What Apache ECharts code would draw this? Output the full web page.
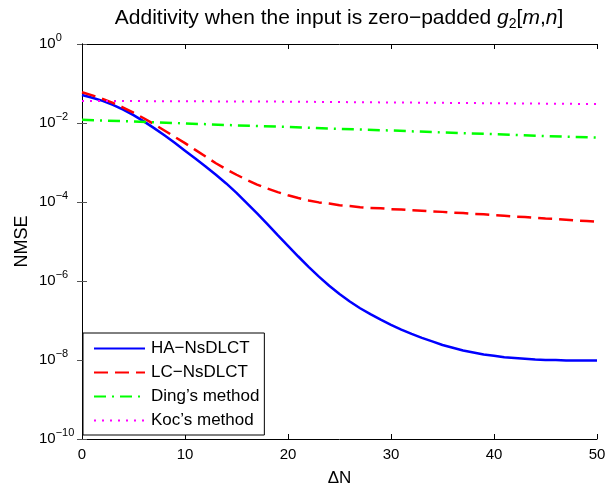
<!DOCTYPE html>
<html>
<head>
<meta charset="utf-8">
<script src="https://cdn.jsdelivr.net/npm/echarts@6/dist/echarts.min.js"></script>
<style>
  html, body { margin: 0; padding: 0; background: #fff; }
  #chart { width: 605px; height: 489px; }
</style>
</head>
<body>
<div id="chart"></div>
<script>
// values are log10(NMSE)
var dN = [];
for (var i = 0; i <= 50; i++) dN.push(i);

var haNsdlct = [-1.29, -1.36, -1.44, -1.54, -1.66, -1.80, -1.96, -2.13, -2.31, -2.50,
	-2.70, -2.90, -3.10, -3.31, -3.53, -3.77, -4.03, -4.29, -4.56, -4.84,
	-5.11, -5.38, -5.64, -5.89, -6.12, -6.33, -6.52, -6.69, -6.84, -6.98,
	-7.11, -7.23, -7.34, -7.44, -7.53, -7.62, -7.69, -7.76, -7.81, -7.86,
	-7.89, -7.93, -7.95, -7.97, -7.99, -8.00, -8.00, -8.01, -8.01, -8.01, -8.01];

var lcNsdlct = [-1.22, -1.30, -1.39, -1.49, -1.61, -1.74, -1.88, -2.03, -2.19, -2.35,
	-2.51, -2.68, -2.85, -3.02, -3.17, -3.31, -3.44, -3.56, -3.66, -3.75,
	-3.83, -3.90, -3.96, -4.01, -4.04, -4.08, -4.10, -4.13, -4.15, -4.16,
	-4.18, -4.19, -4.21, -4.22, -4.24, -4.25, -4.27, -4.28, -4.30, -4.31,
	-4.33, -4.35, -4.37, -4.38, -4.40, -4.42, -4.43, -4.45, -4.47, -4.48, -4.50];

var dingX = [0, 5, 10, 15, 20, 25, 30, 35, 40, 45, 50];
var ding = [-1.92, -1.96, -2.01, -2.06, -2.10, -2.15, -2.19, -2.24, -2.28, -2.33, -2.37];

var kocX = [0, 10, 20, 30, 40, 50];
var koc = [-1.44, -1.45, -1.46, -1.48, -1.50, -1.52];

var xTicks = [0, 10, 20, 30, 40, 50];
var yExps = [0, -2, -4, -6, -8, -10];

var font = 'Liberation Sans, Arial, Helvetica, sans-serif';

function pairs(xs, logs) {
	var out = [];
	for (var k = 0; k < xs.length; k++) out.push([xs[k], Math.pow(10, logs[k])]);
	return out;
}

function yLabel(v) {
	var e = Math.round(Math.log10(v));
	if (yExps.indexOf(e) < 0) return '';
	return '{b|10}{s|' + String(e).replace('-', '\u2212') + '}';
}

var chart = echarts.init(document.getElementById('chart'));

var baseX = {
	type: 'value', min: 0, max: 50, interval: 10,
	axisLine: { lineStyle: { color: '#000', width: 1 } },
	axisTick: { inside: true, length: 5, lineStyle: { color: '#000' } },
	splitLine: { show: false }
};
var baseY = {
	type: 'log', logBase: 10, min: 1e-10, max: 1, interval: 2,
	axisLine: { show: true, lineStyle: { color: '#000', width: 1 } },
	axisTick: { inside: true, length: 5, lineStyle: { color: '#555' } },
	minorTick: { show: false },
	splitLine: { show: false }
};

chart.setOption({
	animation: false,
	backgroundColor: '#fff',
	title: {
		text: '{n|Additivity when the input is zero\u2212padded }{i|g}{sub|2}{n|[}{i|m}{n|,}{i|n}{n|]}',
		left: 334, top: 1, textAlign: 'center',
		textStyle: {
			fontWeight: 'normal',
			rich: {
				n: { fontFamily: font, fontSize: 21, fontWeight: 'normal', color: '#000' },
				i: { fontFamily: font, fontSize: 21, fontWeight: 'normal', fontStyle: 'italic', color: '#000' },
				sub: { fontFamily: font, fontSize: 14, fontWeight: 'normal', color: '#000', padding: [11, 0, 0, 0] }
			}
		}
	},
	grid: { left: 82, right: 8, top: 44, bottom: 50, outerBoundsMode: 'none' },
	legend: {
		orient: 'vertical',
		left: 83, top: 333,
		itemWidth: 51, itemHeight: 14, itemGap: 7,
		padding: [7, 5, 6, 10],
		borderColor: '#000', borderWidth: 1,
		backgroundColor: '#fff',
		itemStyle: { opacity: 0 },
		textStyle: { fontFamily: font, fontSize: 17, color: '#000', padding: [0, 0, 0, 1] },
		data: ['HA\u2212NsDLCT', 'LC\u2212NsDLCT', 'Ding\u2019s method', 'Koc\u2019s method']
	},
	xAxis: [
		Object.assign({}, baseX, {
			position: 'bottom',
			axisLabel: { fontFamily: font, fontSize: 15, color: '#000', margin: 8, formatter: function (v) { return xTicks.indexOf(v) >= 0 ? String(v) : ''; } },
			name: '\u0394N', nameLocation: 'middle', nameGap: 31,
			nameTextStyle: { fontFamily: font, fontSize: 17, color: '#000' }
		}),
		Object.assign({}, baseX, { position: 'top', axisLabel: { show: false } })
	],
	yAxis: [
		Object.assign({}, baseY, {
			position: 'left',
			axisLabel: {
				margin: 43, align: 'left', formatter: yLabel,
				rich: {
					b: { fontFamily: font, fontSize: 15, color: '#000' },
					s: { fontFamily: font, fontSize: 11, color: '#000', padding: [0, 0, 12, 0] }
				}
			},
			name: 'NMSE', nameLocation: 'middle', nameGap: 51, nameRotate: 90,
			nameMoveOverlap: false,
			nameTextStyle: { fontFamily: font, fontSize: 18, color: '#000' }
		}),
		Object.assign({}, baseY, { position: 'right', axisLabel: { show: false } })
	],
	series: [
		{
			name: 'HA\u2212NsDLCT', type: 'line', data: pairs(dN, haNsdlct),
			showSymbol: false, symbol: 'none',
			lineStyle: { color: '#0000ff', width: 2.5, type: 'solid' },
			itemStyle: { color: '#0000ff' }
		},
		{
			name: 'LC\u2212NsDLCT', type: 'line', data: pairs(dN, lcNsdlct),
			showSymbol: false, symbol: 'none',
			lineStyle: { color: '#ff0000', width: 2.5, type: [14, 7] },
			itemStyle: { color: '#ff0000' }
		},
		{
			name: 'Ding\u2019s method', type: 'line', data: pairs(dingX, ding),
			showSymbol: false, symbol: 'none',
			lineStyle: { color: '#00ff00', width: 2.5, type: [12, 6, 2, 6] },
			itemStyle: { color: '#00ff00' }
		},
		{
			name: 'Koc\u2019s method', type: 'line', data: pairs(kocX, koc),
			showSymbol: false, symbol: 'none',
			lineStyle: { color: '#ff00ff', width: 2, type: [2, 6] },
			itemStyle: { color: '#ff00ff' }
		}
	]
});
</script>
</body>
</html>
